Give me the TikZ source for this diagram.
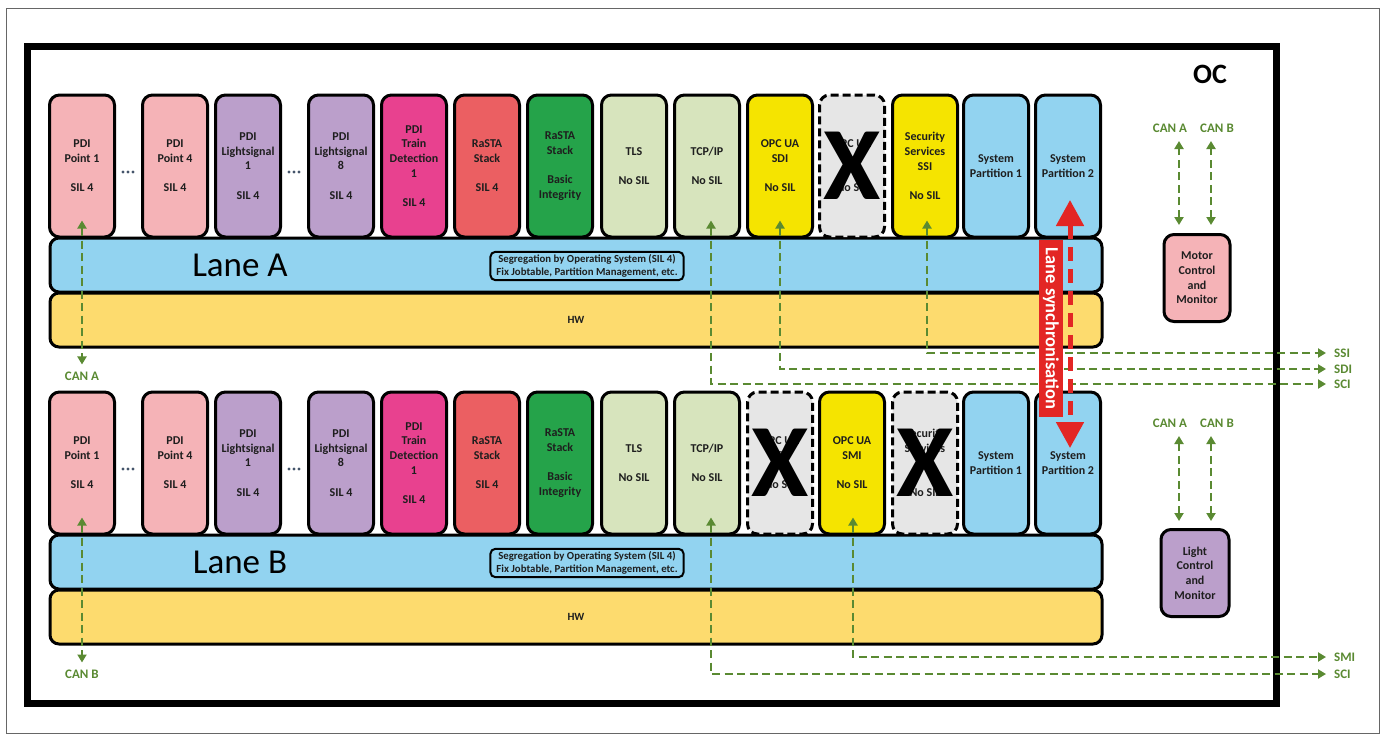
\documentclass[tikz,border=0pt]{standalone}
\usepackage{fontspec}
\setmainfont{Carlito}
\usetikzlibrary{arrows.meta}
\definecolor{pink1}{HTML}{F5B3B7}
\definecolor{lav}{HTML}{BB9FCB}
\definecolor{mag}{HTML}{E8418F}
\definecolor{coral}{HTML}{EB5F62}
\definecolor{dgreen}{HTML}{25A34A}
\definecolor{lgreen}{HTML}{D7E4BD}
\definecolor{yel}{HTML}{F5E400}
\definecolor{xgray}{HTML}{E6E6E6}
\definecolor{sblue}{HTML}{92D3F0}
\definecolor{hwcol}{HTML}{FDDB6E}
\definecolor{gline}{HTML}{5A8A32}
\definecolor{rline}{HTML}{E32624}
\definecolor{txt}{HTML}{1E1E1E}
\definecolor{dotcol}{HTML}{44546A}
\begin{document}
\begin{tikzpicture}[x=1pt,y=-1pt,
  part/.style={draw=black, line width=3pt, rounded corners=10pt, minimum width=65pt, minimum height=142pt, inner sep=0pt, align=center, text=txt, font=\fontsize{12}{14.7}\selectfont\bfseries},
  crossed/.style={part, dash pattern=on 8pt off 4pt, fill=xgray},
  bigx/.style={inner sep=0pt, text=black, font=\fontsize{104}{104}\selectfont\bfseries},
  bar/.style={draw=black, line width=3pt, rounded corners=9pt, minimum width=1052pt, minimum height=54pt, inner sep=0pt},
  smallbox/.style={part, minimum height=87pt},
  lab/.style={text=gline, font=\fontsize{13}{13}\selectfont\bfseries, inner sep=1pt},
  rlab/.style={lab, anchor=west, inner xsep=8pt},
  garrow/.style={draw=gline, line width=2.8pt, dash pattern=on 8pt off 4.5pt, arrows={Triangle[width=9pt,length=8pt]-Triangle[width=9pt,length=8pt]}},
  rarrow/.style={draw=rline, line width=5pt, dash pattern=on 14pt off 8pt, arrows={Triangle[width=27pt,length=26pt]-Triangle[width=27pt,length=26pt]}},
  lanetext/.style={inner sep=0pt, font=\fontsize{35}{35}\selectfont},
  segbox/.style={draw=black, line width=2pt, rounded corners=5pt, fill=sblue, align=center, inner xsep=6pt, inner ysep=3pt, font=\fontsize{10.8}{12.5}\selectfont\bfseries, text=txt},
  hwtext/.style={font=\fontsize{11}{12}\selectfont\bfseries, text=txt}
]
\useasboundingbox (0,0) rectangle (1384,736);
\fill[white] (0,0) rectangle (1384,736);
\draw[line width=1pt, draw=black!60] (6,8) rectangle (1379,733);
\draw[line width=7pt] (27,46) rectangle (1276,703);
\node[font=\fontsize{28}{28}\selectfont\bfseries, inner sep=0pt] (oc) at (1210,74) {OC};

% ---------- Lane A ----------
\node[bar, fill=sblue] (laneA) at (576,265) {};
\node[bar, fill=hwcol] (hwA) at (576,320) {};
\node[lanetext] (laneAt) at (240,265) {Lane A};
\node[segbox] (segA) at (587,266) {Segregation by Operating System (SIL 4)\\Fix Jobtable, Partition Management, etc.};
\node[hwtext] (hwAt) at (576,320) {HW};

\node[part, fill=pink1] (a1) at (82,166) {PDI\\Point 1\\[14.7pt]SIL 4};
\node[part, fill=pink1] (a2) at (175,166) {PDI\\Point 4\\[14.7pt]SIL 4};
\node[part, fill=lav] (a3) at (248,166) {PDI\\Lightsignal\\1\\[14.7pt]SIL 4};
\node[part, fill=lav] (a4) at (341,166) {PDI\\Lightsignal\\8\\[14.7pt]SIL 4};
\node[part, fill=mag] (a5) at (414,166) {PDI\\Train\\Detection\\1\\[14.7pt]SIL 4};
\node[part, fill=coral] (a6) at (487,166) {RaSTA\\Stack\\[14.7pt]SIL 4};
\node[part, fill=dgreen] (a7) at (560,166) {RaSTA\\Stack\\[14.7pt]Basic\\Integrity};
\node[part, fill=lgreen] (a8) at (634,166) {TLS\\[14.7pt]No SIL};
\node[part, fill=lgreen] (a9) at (707,166) {TCP/IP\\[14.7pt]No SIL};
\node[part, fill=yel] (a10) at (780,166) {OPC UA\\SDI\\[14.7pt]No SIL};
\node[crossed] (a11) at (852,166) {OPC UA\\SMI\\[14.7pt]No SIL};
\node[bigx] (xa11) at (852,166) {X};
\node[part, fill=yel] (a12) at (925,166) {Security\\Services\\SSI\\[14.7pt]No SIL};
\node[part, fill=sblue] (a13) at (996,166) {System\\Partition 1};
\node[part, fill=sblue] (a14) at (1068,166) {System\\Partition 2};

% ---------- Lane B ----------
\node[bar, fill=sblue] (laneB) at (576,562) {};
\node[bar, fill=hwcol] (hwB) at (576,617) {};
\node[lanetext] (laneBt) at (240,562) {Lane B};
\node[segbox] (segB) at (587,563) {Segregation by Operating System (SIL 4)\\Fix Jobtable, Partition Management, etc.};
\node[hwtext] (hwBt) at (576,617) {HW};

\node[part, fill=pink1] (b1) at (82,463) {PDI\\Point 1\\[14.7pt]SIL 4};
\node[part, fill=pink1] (b2) at (175,463) {PDI\\Point 4\\[14.7pt]SIL 4};
\node[part, fill=lav] (b3) at (248,463) {PDI\\Lightsignal\\1\\[14.7pt]SIL 4};
\node[part, fill=lav] (b4) at (341,463) {PDI\\Lightsignal\\8\\[14.7pt]SIL 4};
\node[part, fill=mag] (b5) at (414,463) {PDI\\Train\\Detection\\1\\[14.7pt]SIL 4};
\node[part, fill=coral] (b6) at (487,463) {RaSTA\\Stack\\[14.7pt]SIL 4};
\node[part, fill=dgreen] (b7) at (560,463) {RaSTA\\Stack\\[14.7pt]Basic\\Integrity};
\node[part, fill=lgreen] (b8) at (634,463) {TLS\\[14.7pt]No SIL};
\node[part, fill=lgreen] (b9) at (707,463) {TCP/IP\\[14.7pt]No SIL};
\node[crossed] (b10) at (780,463) {OPC UA\\SDI\\[14.7pt]No SIL};
\node[bigx] (xb10) at (780,463) {X};
\node[part, fill=yel] (b11) at (852,463) {OPC UA\\SMI\\[14.7pt]No SIL};
\node[crossed] (b12) at (925,463) {Security\\Services\\SSI\\[14.7pt]No SIL};
\node[bigx] (xb12) at (925,463) {X};
\node[part, fill=sblue] (b13) at (996,463) {System\\Partition 1};
\node[part, fill=sblue] (b14) at (1068,463) {System\\Partition 2};

% dots
\foreach \cx in {128,294}{
  \foreach \cy in {172,469}{
    \foreach \d in {-5,0,5}{\fill[dotcol] (\cx+\d,\cy) circle (1.7pt);}
  }
}

% ---------- side boxes ----------
\node[smallbox, fill=pink1, minimum width=66pt] (motor) at (1197,278) {Motor\\Control\\and\\Monitor};
\node[lab] (mA) at (1170,128) {CAN A};
\node[lab] (mB) at (1217,128) {CAN B};
\node[smallbox, fill=lav, minimum width=68pt] (light) at (1195,573) {Light\\Control\\and\\Monitor};
\node[lab] (lA) at (1170,423) {CAN A};
\node[lab] (lB) at (1217,423) {CAN B};

% ---------- labels ----------
\node[lab] (canA) at (82,376) {CAN A};
\node[lab] (canB) at (82,674) {CAN B};
\node[rlab] (ssiA) at (1326,353) {SSI};
\node[rlab] (sdiA) at (1326,369) {SDI};
\node[rlab] (sciA) at (1326,384) {SCI};
\node[rlab] (smiB) at (1326,657) {SMI};
\node[rlab] (sciB) at (1326,674) {SCI};

% ---------- green connectors ----------
\draw[garrow] ([yshift=18pt]a1.south) -- ([yshift=6pt]canA.north);
\draw[garrow] ([yshift=18pt]b1.south) -- ([yshift=6pt]canB.north);
\draw[garrow] ([xshift=4pt,yshift=18pt]a9.south) |- (sciA.west);
\draw[garrow] ([yshift=18pt]a10.south) |- (sdiA.west);
\draw[garrow] ([xshift=2pt,yshift=18pt]a12.south) |- (ssiA.west);
\draw[garrow] ([xshift=4pt,yshift=18pt]b9.south) |- (sciB.west);
\draw[garrow] ([xshift=1pt,yshift=18pt]b11.south) |- (smiB.west);
\draw[garrow] ([xshift=-18pt,yshift=8pt]motor.north) -- ([xshift=-18pt,yshift=92pt]motor.north);
\draw[garrow] ([xshift=14pt,yshift=8pt]motor.north) -- ([xshift=14pt,yshift=92pt]motor.north);
\draw[garrow] ([xshift=-16pt,yshift=7pt]light.north) -- ([xshift=-16pt,yshift=92pt]light.north);
\draw[garrow] ([xshift=16pt,yshift=7pt]light.north) -- ([xshift=16pt,yshift=92pt]light.north);

% ---------- lane synchronisation ----------
\node[fill=rline, text=white, rotate=-90, minimum width=177pt, minimum height=24pt, inner sep=0pt, font=\fontsize{18.5}{18.5}\selectfont\bfseries] (sync) at (1051,328.5) {Lane synchronisation};
\coordinate (syncT) at (1070,200);
\coordinate (syncB) at (1070,448);
\draw[rarrow] (syncT) -- (syncB);
\end{tikzpicture}
\end{document}
